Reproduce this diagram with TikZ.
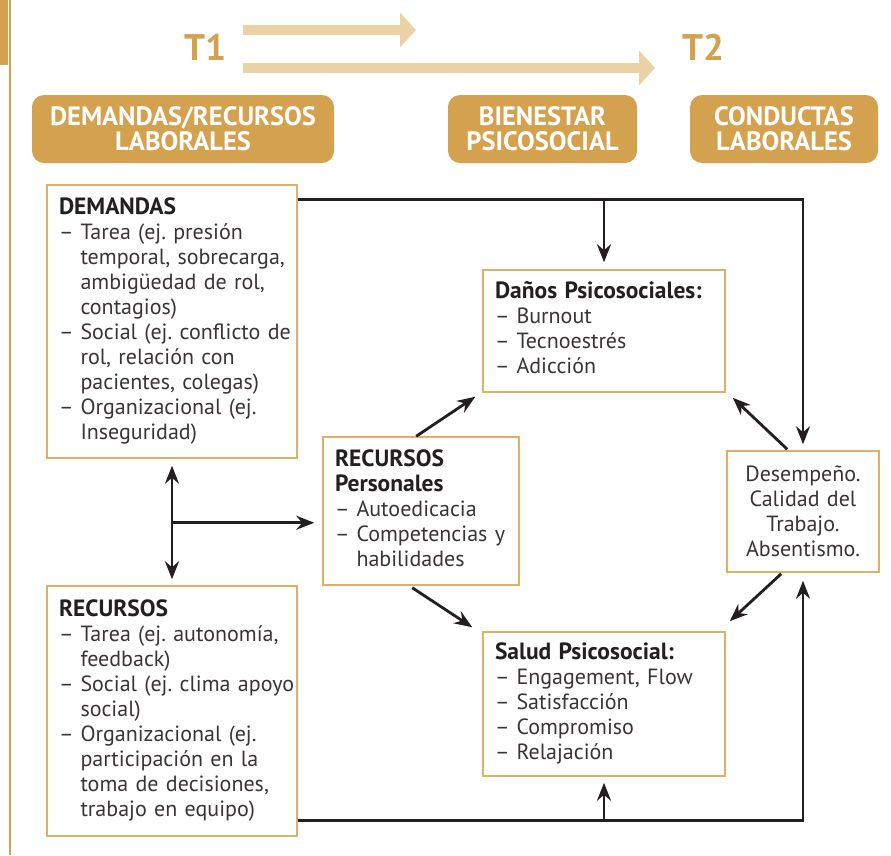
\documentclass[tikz,border=0pt]{standalone}
\usepackage{fontspec}
\setmainfont{PT Sans}
\usetikzlibrary{arrows.meta,calc}

\definecolor{gold}{HTML}{D4A24E}
\definecolor{paleGold}{HTML}{EAD2A4}
\definecolor{frame}{HTML}{DDB068}
\definecolor{ink}{HTML}{231F20}
\definecolor{bodytext}{HTML}{3A3436}

\frenchspacing
\newcommand{\bodysize}{\fontsize{22}{25}\selectfont}
\newcommand{\headsize}{\fontsize{26.5}{25}\selectfont\bfseries}
\newcommand{\boxtitle}[1]{\textcolor{ink}{\fontsize{23.5}{25}\selectfont\bfseries #1}}

\tikzset{
  box/.style={draw=frame, line width=1.5pt, fill=white, inner xsep=12pt,
    inner ysep=0pt, align=left, text=bodytext, font=\bodysize},
  head/.style={fill=gold, rounded corners=12pt, text=white, font=\headsize,
    align=center, minimum height=68pt, inner sep=0pt},
  time/.style={text=gold, font=\fontsize{37}{37}\selectfont\bfseries, inner sep=0pt},
  band/.style={draw=paleGold, line width=10pt,
    -{Triangle[length=16pt,width=34pt]}},
  conn/.style={draw=ink, line width=2.8pt, -{Stealth[length=18pt,width=14pt,inset=6pt]}},
  link/.style={draw=ink, line width=2.8pt},
}

\begin{document}
\begin{tikzpicture}[x=1pt, y=-1pt]
  \useasboundingbox (0,0) rectangle (891,855);

  % margin rule
  \fill[gold] (0,0) rectangle (8,65);
  \draw[gold, line width=1.2pt] (10,0) -- (10,855);

  % time markers
  \node[time] (t1) at (205,47) {T1};
  \node[time] (t2) at (703,47) {T2};
  \coordinate (bandA) at (243,30);
  \coordinate (bandB) at (243,68);
  \draw[band] (bandA) -- ++(173,0);
  \draw[band] (bandB) -- ++(412,0);

  % column headers
  \node[head, minimum width=302pt] (h1) at (183,129) {DEMANDAS/RECURSOS\\LABORALES};
  \node[head, minimum width=189pt] (h2) at (542.5,129) {BIENESTAR\\PSICOSOCIAL};
  \node[head, minimum width=188pt] (h3) at (784,129) {CONDUCTAS\\LABORALES};

  % content boxes
  \node[box, text width=226pt, minimum height=273pt] (dem) at (172,321.5) {%
    \begin{tabular}{@{}l@{\hspace{7pt}}l@{}}
      \multicolumn{2}{@{}l}{\boxtitle{DEMANDAS}}\\
      – & Tarea (ej. presión\\
        & temporal, sobrecarga,\\
        & ambigüedad de rol,\\
        & contagios)\\
      – & Social (ej. conflicto de\\
        & rol, relación con\\
        & pacientes, colegas)\\
      – & Organizacional (ej.\\
        & Inseguridad)
    \end{tabular}};

  \node[box, text width=226pt, minimum height=250pt] (rec) at (172,711) {%
    \begin{tabular}{@{}l@{\hspace{7pt}}l@{}}
      \multicolumn{2}{@{}l}{\boxtitle{RECURSOS}}\\
      – & Tarea (ej. autonomía,\\
        & feedback)\\
      – & Social (ej. clima apoyo\\
        & social)\\
      – & Organizacional (ej.\\
        & participación en la\\
        & toma de decisiones,\\
        & trabajo en equipo)
    \end{tabular}};

  \node[box, text width=172pt, minimum height=148pt] (per) at (421,511) {%
    \begin{tabular}{@{}l@{\hspace{7pt}}l@{}}
      \multicolumn{2}{@{}l}{\boxtitle{RECURSOS}}\\
      \multicolumn{2}{@{}l}{\boxtitle{Personales}}\\
      – & Autoedicacia\\
      – & Competencias y\\
        & habilidades
    \end{tabular}};

  \node[box, text width=218pt, minimum height=122pt] (dan) at (604,331) {%
    \begin{tabular}{@{}l@{\hspace{7pt}}l@{}}
      \multicolumn{2}{@{}l}{\boxtitle{Daños Psicosociales:}}\\
      – & Burnout\\
      – & Tecnoestrés\\
      – & Adicción
    \end{tabular}};

  \node[box, text width=218pt, minimum height=144pt] (sal) at (604,704) {%
    \begin{tabular}{@{}l@{\hspace{7pt}}l@{}}
      \multicolumn{2}{@{}l}{\boxtitle{Salud Psicosocial:}}\\
      – & Engagement, Flow\\
      – & Satisfacción\\
      – & Compromiso\\
      – & Relajación
    \end{tabular}};

  \node[box, align=center, text width=128pt, minimum height=121pt] (des) at (803,511.5)
    {Desempeño.\\Calidad del\\Trabajo.\\Absentismo.};

  % upper and lower feedback lines
  \coordinate (topL) at ($(dem.north east)+(0,15)$);
  \coordinate (botL) at ($(rec.south east)+(0,-16)$);
  \draw[conn, shorten >=6pt] (topL) -- (topL -| des.north) -- (des.north);
  \draw[conn, shorten >=7pt] (topL -| dan.north) -- (dan.north);
  \draw[conn, shorten >=8pt] (botL) -- (botL -| des.south) -- (des.south);
  \draw[conn, shorten >=6pt] (botL -| sal.south) -- (sal.south);

  % demands <-> resources, and fork to personal resources
  \draw[link, {Stealth[length=18pt,width=14pt,inset=6pt]}-{Stealth[length=18pt,width=14pt,inset=6pt]},
        shorten <=7pt, shorten >=6pt] (dem.south) -- (rec.north);
  \coordinate (fork) at ($(dem.south)+(0,64)$);
  \draw[conn, shorten >=8pt] (fork) -- (fork -| per.west);

  % diagonal links
  \draw[conn] ($(per.north west)+(94,0)$) -- ($(dan.south west)+(-7,4)$);
  \draw[conn] ($(per.south west)+(90,2)$) -- ($(sal.north west)+(-10,-4)$);
  \draw[conn] ($(des.north west)+(61,-1)$) -- ($(dan.south east)+(7,5)$);
  \draw[conn] ($(des.south west)+(55,1)$) -- ($(sal.north east)+(4,-10)$);
\end{tikzpicture}
\end{document}
